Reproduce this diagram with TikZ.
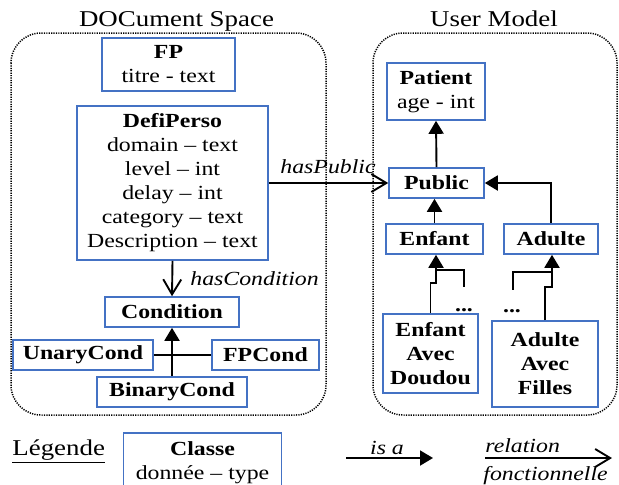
\documentclass[tikz,border=0pt]{standalone}
\usepackage{fontspec}
\setmainfont[FakeStretch=1.19]{Liberation Serif}
\usetikzlibrary{arrows.meta}
\definecolor{boxblue}{HTML}{4472C4}
\begin{document}
\begin{tikzpicture}[x=0.5pt,y=-0.5pt,
 every node/.style={font=\fontsize{10}{12}\selectfont},
 cls/.style={draw=boxblue, line width=0.8pt, inner sep=0pt, align=center, font=\fontsize{10}{12}\selectfont},
 frame/.style={draw, line width=0.75pt, dash pattern=on 0.6pt off 0.6pt, rounded corners=15pt},
 conn/.style={line width=0.95pt},
 isa/.style={conn, -{Triangle[length=6.5pt,width=7.5pt]}},
 rel/.style={conn, -{Straight Barb[length=7.5pt,width=9pt]}},
 ttl/.style={inner sep=0pt, font=\fontsize{11.3}{13}\selectfont},
 lbl/.style={inner sep=0pt, font=\fontsize{10}{12}\selectfont\itshape}
]
\useasboundingbox (0,0) rectangle (619,484);
\clip (0,0) rectangle (619,484);

% frames
\draw[frame] (11,33) rectangle (326,415);
\draw[frame] (373,33) rectangle (617,415);
\node[ttl, anchor=base] (t1) at (176.5,26) {DOCument Space};
\node[ttl, anchor=base] (t2) at (494,26) {User Model};

% document space
\node[cls, minimum width=66.5pt, minimum height=26.5pt] (FP) at (168.5,64.5) {\textbf{FP}\\titre - text};
\node[cls, minimum width=95.5pt, minimum height=77pt] (DP) at (172.5,183) {\textbf{DefiPerso}\\domain -- text\\level -- int\\delay -- int\\category -- text\\Description -- text};
\node[cls, minimum width=67pt, minimum height=15pt] (Cond) at (172,312) {\textbf{Condition}};
\node[cls, minimum width=70pt, minimum height=15pt] (UC) at (83,355) {\textbf{UnaryCond}};
\node[cls, minimum width=53.5pt, minimum height=15pt] (FPC) at (265.5,355) {\textbf{FPCond}};
\node[cls, minimum width=75pt, minimum height=15pt] (BC) at (172,392) {\textbf{BinaryCond}};

% user model
\node[cls, minimum width=49pt, minimum height=28.5pt] (Pat) at (436,91.5) {\textbf{Patient}\\age - int};
\node[cls, minimum width=47.5pt, minimum height=15pt] (Pub) at (436.5,183) {\textbf{Public}};
\node[cls, minimum width=48.5pt, minimum height=15pt] (Enf) at (434.5,239) {\textbf{Enfant}};
\node[cls, minimum width=47pt, minimum height=15pt] (Adu) at (551,239) {\textbf{Adulte}};
\node[cls, minimum width=47.5pt, minimum height=39.5pt] (EAD) at (430.5,353.5) {\textbf{Enfant}\\\textbf{Avec}\\\textbf{Doudou}};
\node[cls, minimum width=53pt, minimum height=43pt] (AAF) at (545,364) {\textbf{Adulte}\\\textbf{Avec}\\\textbf{Filles}};

% connectors
\draw[rel] (DP.south) -- (Cond.north);
\node[lbl, anchor=base west] (hc) at (190,285) {hasCondition};
\draw[rel] (DP.east) -- (Pub.west);
\node[lbl, anchor=base west] (hp) at (280,173) {hasPublic};
\draw[conn] (UC.east) -- (FPC.west);
\draw[isa] (BC.north) -- (Cond.south);
\draw[isa] (Pub.north) -- (Pat.south);
\draw[isa] (Enf.north) -- (Enf.north |- Pub.south);
\draw[isa] (Adu.north) |- (Pub.east);

\coordinate (e1) at (436,283);
\coordinate (e2) at (436,270);
\coordinate (e3) at (464,287);
\draw[isa] (EAD.north) |- (e1) -- (e1 |- Enf.south);
\draw[conn] (e2) -| (e3);
\node[anchor=base, font=\fontsize{10}{12}\selectfont\bfseries] (d1) at (464,311) {...};

\coordinate (a1) at (552,287);
\coordinate (a2) at (552,272);
\coordinate (a3) at (513,290);
\draw[isa] (AAF.north) |- (a1) -- (a1 |- Adu.south);
\draw[conn] (a2) -| (a3);
\node[anchor=base, font=\fontsize{10}{12}\selectfont\bfseries] (d2) at (512,312) {...};

% legend
\node[ttl, anchor=base west] (leg) at (12,455) {\underline{Légende}};
\node[cls, minimum width=79pt, minimum height=30pt, anchor=north] (cls) at (202.5,432) {\textbf{Classe}\\donnée -- type};
\coordinate (i1) at (346,458);
\coordinate (i2) at (433,458);
\draw[isa] (i1) -- (i2);
\node[lbl, anchor=base] (isal) at (387,454) {is a};
\coordinate (r1) at (485,458);
\coordinate (r2) at (612,458);
\draw[rel] (r1) -- (r2);
\node[lbl, anchor=base west] (rl1) at (485,452) {relation};
\node[lbl, anchor=base west] (rl2) at (483,480) {fonctionnelle};
\end{tikzpicture}
\end{document}
